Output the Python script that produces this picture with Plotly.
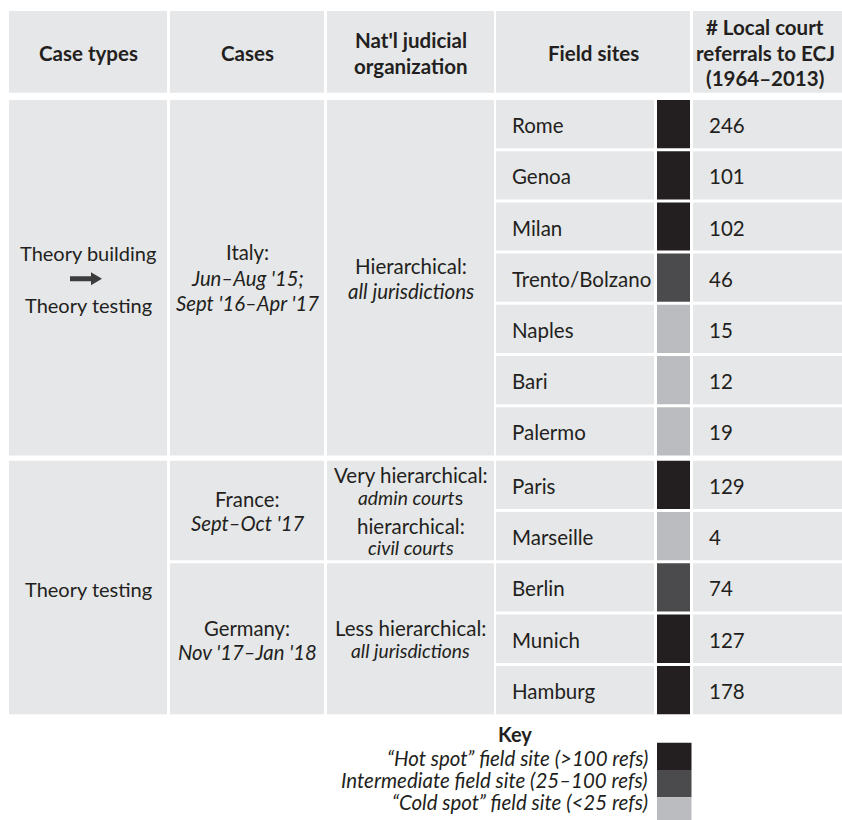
import plotly.graph_objects as go

# ---------------- data ----------------
header_labels = [["Case types"], ["Cases"], ["Nat'l judicial", "organization"],
                 ["Field sites"], ["# Local court", "referrals to ECJ", "(1964–2013)"]]

case_types = [["Theory building", "→", "Theory testing"], ["Theory testing"]]
case_type_rows = [(0, 6), (7, 11)]

cases = [["Italy:", "<i>Jun–Aug '15;</i>", "<i>Sept '16–Apr '17</i>"],
         ["France:", "<i>Sept–Oct '17</i>"],
         ["Germany:", "<i>Nov '17–Jan '18</i>"]]
case_rows = [(0, 6), (7, 8), (9, 11)]

organization = [["Hierarchical:", "<i>all jurisdictions</i>"],
                ["Very hierarchical:", "<i>admin court</i>s", "hierarchical:", "<i>civil courts</i>"],
                ["Less hierarchical:", "<i>all jurisdictions</i>"]]

sites = ["Rome", "Genoa", "Milan", "Trento/Bolzano", "Naples", "Bari", "Palermo",
         "Paris", "Marseille", "Berlin", "Munich", "Hamburg"]
refs = [246, 101, 102, 46, 15, 12, 19, 129, 4, 74, 127, 178]

key_title = "Key"
tier_labels = ["“Hot spot” field site (>100 refs)",
               "Intermediate field site (25–100 refs)",
               "“Cold spot” field site (<25 refs)"]
tier_colors = ["#231f20", "#4b4b4d", "#bbbcbf"]


def tier(v):
    if v > 100:
        return 0
    if v >= 25:
        return 1
    return 2


# ---------------- layout constants ----------------
W, H = 842, 820
BG = "#e6e7e8"
TXT = "#231f20"
FONT = "Lato"
REG = 20.5
COLS = [(9, 167), (170, 324), (327, 494), (496, 654), (657, 690), (693, 842)]
HEAD = (11, 92.7)


def row_top(i):
    if i < 7:
        return 100 + i * 51.2
    return 460.7 + (i - 7) * 51.3


def row_bot(i):
    return row_top(i) + (51.2 if i < 7 else 51.3) - 3


shapes = []
ann = []


def rect(x0, x1, y0, y1, color):
    shapes.append(dict(type="rect", xref="x", yref="y", x0=x0, x1=x1, y0=y0, y1=y1,
                       fillcolor=color, line=dict(width=0), layer="below"))


def text(x, y, s, size=REG, bold=False, anchor="center", color=TXT):
    if bold:
        s = "<b>" + s + "</b>"
    ann.append(dict(x=x, y=y, xref="x", yref="y", text=s, showarrow=False,
                    xanchor=anchor, yanchor="middle",
                    font=dict(family=FONT, size=size, color=color)))


# header
head_cols = [COLS[0], COLS[1], COLS[2], (COLS[3][0], COLS[4][1]), COLS[5]]
head_xshift = [0, 0, 0, 0, -2.5]
for (x0, x1), lines, dx in zip(head_cols, header_labels, head_xshift):
    rect(x0, x1, HEAD[0], HEAD[1], BG)
    cy = (HEAD[0] + HEAD[1]) / 2
    n = len(lines)
    pitch = 25.5
    for k, ln in enumerate(lines):
        text((x0 + x1) / 2 + dx, cy + (k - (n - 1) / 2) * pitch + 1, ln, size=20.5, bold=True)

# case types column
for (r0, r1), lines in zip(case_type_rows, case_types):
    y0, y1 = row_top(r0), row_bot(r1)
    rect(*COLS[0], y0, y1, BG)
    cy = (y0 + y1) / 2
    xc = (COLS[0][0] + COLS[0][1]) / 2
    if len(lines) == 3:
        text(xc, cy - 25, lines[0], size=20)
        # arrow
        ax0, ax1, ah = 70, 102, cy + 1
        shapes.append(dict(type="path", xref="x", yref="y",
                           path=f"M{ax0},{ah-2.5} L{ax1-11},{ah-2.5} L{ax1-11},{ah-6.5} "
                                f"L{ax1},{ah} L{ax1-11},{ah+6.5} L{ax1-11},{ah+2.5} L{ax0},{ah+2.5} Z",
                           fillcolor="#3c3c3c", line=dict(width=0)))
        text(xc, cy + 27, lines[2], size=20)
    else:
        text(xc, cy + 2, lines[0], size=20)

# cases column
case_offsets = [[-26, 0, 25], [-12, 12], [-11, 13]]
for (r0, r1), lines, offs in zip(case_rows, cases, case_offsets):
    y0, y1 = row_top(r0), row_bot(r1)
    rect(*COLS[1], y0, y1, BG)
    cy = (y0 + y1) / 2
    xc = (COLS[1][0] + COLS[1][1]) / 2
    for ln, o in zip(lines, offs):
        text(xc, cy + o, ln, size=20.3)

# organization column
org_offsets = [[-12, 13], [-36, -13, 15, 37], [-11, 12]]
org_sizes = [[REG, REG], [REG, 19.3, REG, 19.3], [REG, 19.3]]
for (r0, r1), lines, offs, sz in zip(case_rows, organization, org_offsets, org_sizes):
    y0, y1 = row_top(r0), row_bot(r1)
    rect(*COLS[2], y0, y1, BG)
    cy = (y0 + y1) / 2
    xc = (COLS[2][0] + COLS[2][1]) / 2
    for ln, o, s in zip(lines, offs, sz):
        text(xc, cy + o, ln, size=s)

# field sites, color boxes, refs
for i, (site, v) in enumerate(zip(sites, refs)):
    y0, y1 = row_top(i), row_bot(i)
    cy = (y0 + y1) / 2
    rect(*COLS[3], y0, y1, BG)
    rect(*COLS[4], y0, y1, tier_colors[tier(v)])
    rect(*COLS[5], y0, y1, BG)
    text(COLS[3][0] + 14, cy + 1, site, anchor="left")
    text(COLS[5][0] + 14, cy + 1, str(v), anchor="left")

# key
text(515, 734, key_title, size=20, bold=True)
for k, (lab, col) in enumerate(zip(tier_labels, tier_colors)):
    ky0 = 742.7 + k * 27.3
    rect(COLS[4][0], COLS[4][1] + 1.5, ky0, ky0 + 27.3, col)
    text(650, 758 + k * 22, "<i>" + lab + "</i>", size=20.5, anchor="right")

fig = go.Figure()
fig.add_trace(go.Scatter(x=[0, W], y=[0, H], mode="markers",
                         marker=dict(opacity=0), hoverinfo="skip", showlegend=False))
fig.update_layout(
    width=W, height=H, margin=dict(l=0, r=0, t=0, b=0),
    paper_bgcolor="white", plot_bgcolor="white",
    xaxis=dict(range=[0, W], visible=False, fixedrange=True),
    yaxis=dict(range=[H, 0], visible=False, fixedrange=True),
    shapes=shapes, annotations=ann, showlegend=False,
)
fig.write_html("out.html", config={"displayModeBar": False},
               post_script="document.body.style.margin='0';document.body.style.overflow='hidden';")
